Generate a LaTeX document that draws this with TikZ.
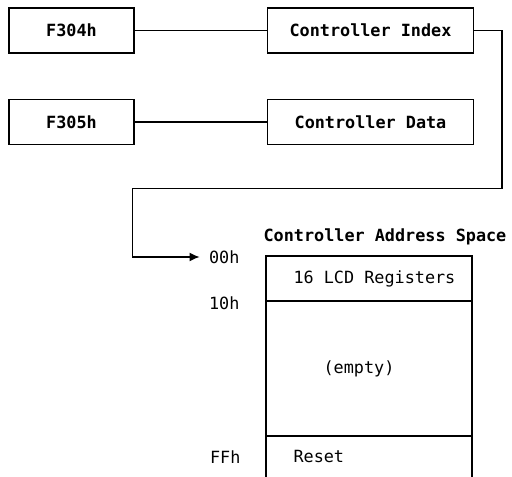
\documentclass[tikz,border=0pt]{standalone}
\usepackage{fontspec}
\setmonofont{DejaVu Sans Mono}
\usetikzlibrary{positioning,arrows.meta}

\begin{document}
\begin{tikzpicture}[
    x=1pt, y=1pt,
    node distance=132pt,
    every node/.style={font=\fontsize{16.8}{20}\selectfont\ttfamily},
    port/.style={rectangle, draw, line width=1.5pt, minimum height=45pt, font=\fontsize{16.8}{20}\selectfont\ttfamily\bfseries},
    cell/.style={rectangle, draw, line width=1.5pt, outer sep=0pt, minimum width=206pt},
    wire/.style={line width=1.5pt},
    arrow/.style={line width=1.5pt, -{Latex[length=10pt,width=9pt]}, shorten >=6pt}
]
    \useasboundingbox (0,0) rectangle (512,477);

    % I/O ports and controller registers
    \node[port, minimum width=125pt] (f304) at (71.5,446.5) {F304h};
    \node[port, minimum width=206pt, right=of f304] (index) {Controller Index};
    \node[port, minimum width=125pt, below=45pt of f304] (f305) {F305h};
    \node[port, minimum width=206pt, right=of f305] (data) {Controller Data};

    \draw[wire] (f304) -- (index);
    \draw[wire] (f305) -- (data);

    % controller address space
    \node[cell, minimum height=45pt] (regs) at (369,198.5) {};
    \node[cell, minimum height=135pt, below=0pt of regs] (empty) {};
    \node[cell, minimum height=41.5pt, below=0pt of empty] (reset) {};

    \node[font=\fontsize{16.8}{20}\selectfont\ttfamily\bfseries, above=7pt of regs.north, xshift=16pt] (title) {Controller Address Space};
    \node[right=24pt of regs.west] (regtext) {16 LCD Registers};
    \node[xshift=-10pt] (emptytext) at (empty.center) {(empty)};
    \node[right=24pt of reset.west] (resettext) {Reset};

    \node[left=23pt of regs.north west, yshift=-1pt] (lbl00) {00h};
    \node[left=23pt of empty.north west, yshift=-2pt] (lbl10) {10h};
    \node[left=46pt of resettext] (lblff) {FFh};

    \coordinate (bendR) at (502,288.7);
    \coordinate (bendL) at (132.7,288.7);
    \draw[arrow] (index.east) -| (bendR) -- (bendL) |- (lbl00.west);
\end{tikzpicture}
\end{document}
